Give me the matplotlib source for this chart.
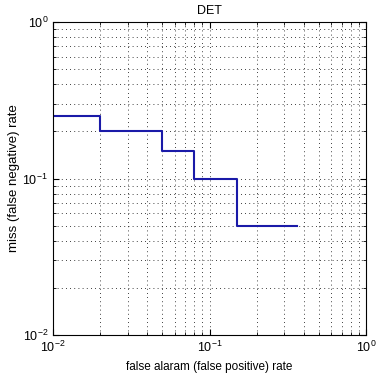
import matplotlib
matplotlib.use("Agg")
import matplotlib.pyplot as plt

# DET curve values
false_alarm = [0.01, 0.02, 0.05, 0.08, 0.15, 0.36]
miss_rate = [0.25, 0.2, 0.15, 0.1, 0.05, 0.05]

plt.rcParams['font.family'] = ['Liberation Sans', 'DejaVu Sans']
plt.rcParams['font.size'] = 9

fig = plt.figure(figsize=(3.76, 3.84), dpi=100)
ax = fig.add_axes([53/376, 49/384, 313/376, 313/384])

ax.plot(false_alarm, miss_rate, drawstyle='steps-post', color='#1a1aa8', lw=1.5)

ax.set_xscale('log')
ax.set_yscale('log')
ax.set_xlim(1e-2, 1e0)
ax.set_ylim(1e-2, 1e0)

# matlab style dotted grid on major and minor ticks
ax.grid(True, which='both', linestyle=(0, (1, 4)), color='black', linewidth=0.6)
ax.tick_params(which='both', direction='in', top=True, right=True, labelsize=9)
ax.tick_params(which='major', length=4)
ax.tick_params(which='minor', length=2)
for s in ax.spines.values():
    s.set_linewidth(0.8)

ax.set_title('DET', fontsize=9, pad=6)
ax.set_xlabel('false alaram (false positive) rate', fontsize=8.5)
ax.set_ylabel('miss (false negative) rate', fontsize=9.5, va='center')
ax.yaxis.set_label_coords(-0.125, 0.5)

fig.savefig('out.png', dpi=100)
